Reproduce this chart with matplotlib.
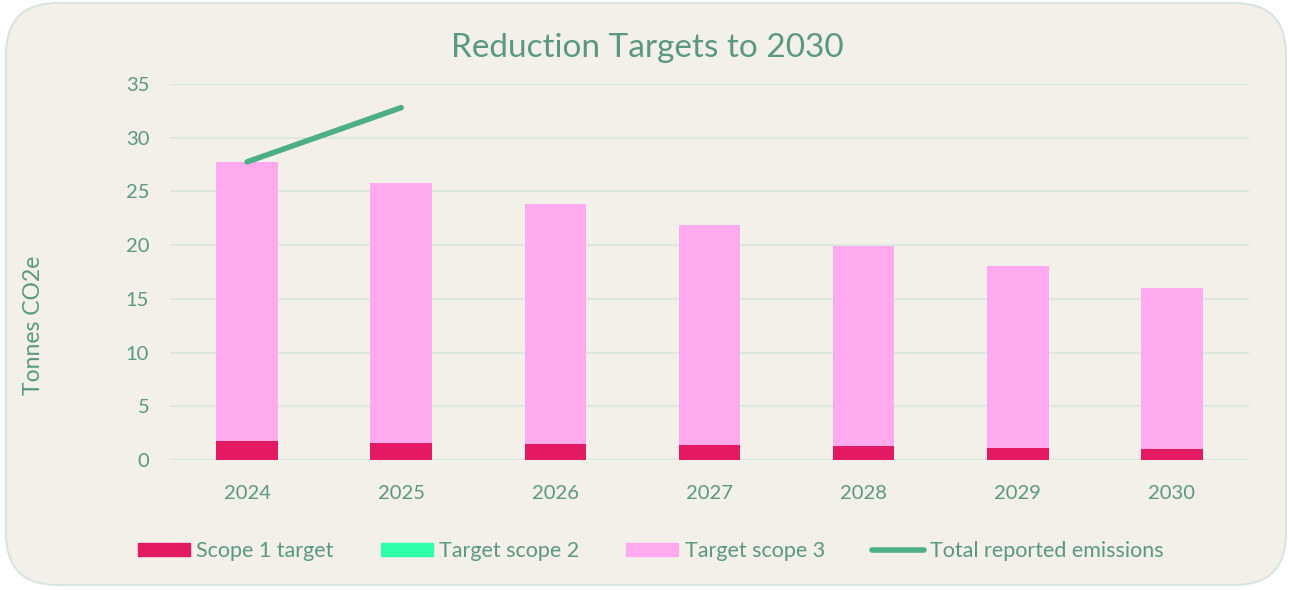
import matplotlib
matplotlib.use("Agg")
import matplotlib.pyplot as plt
from matplotlib.patches import FancyBboxPatch, Patch
from matplotlib.lines import Line2D
import numpy as np

plt.rcParams['font.family'] = ['Lato', 'DejaVu Sans']

years = ["2024", "2025", "2026", "2027", "2028", "2029", "2030"]
scope1 = [1.75, 1.62, 1.5, 1.38, 1.26, 1.14, 1.02]
scope2 = [0, 0, 0, 0, 0, 0, 0]
scope3 = [25.95, 24.18, 22.35, 20.52, 18.64, 16.92, 14.98]
total_reported = [27.75, 32.8]
yticks = [0, 5, 10, 15, 20, 25, 30, 35]

TXT = "#5a9883"
C1 = "#e31a63"
C2 = "#2effa8"
C3 = "#ffaaee"
CL = "#4caf85"
GRID = "#dde7e1"
BG = "#f3f0e9"

fig = plt.figure(figsize=(12.9, 5.9), dpi=100)
fig.patch.set_facecolor("white")
box = FancyBboxPatch((6/1290, 5/590), 1280/1290, 582/590,
                     boxstyle="round,pad=0,rounding_size=0.04",
                     transform=fig.transFigure, facecolor=BG,
                     edgecolor="#d8e5df", linewidth=1.5, mutation_aspect=1290/590,
                     zorder=-10)
fig.patches.append(box)

ax = fig.add_axes([170/1290, 1-460/590, 1079/1290, 376/590])
ax.set_facecolor("none")
ax.set_zorder(1)
x = np.arange(len(years))
w = 0.4
s1 = np.array(scope1); s2 = np.array(scope2); s3 = np.array(scope3)
ax.bar(x, s1, w, color=C1, zorder=3)
ax.bar(x, s2, w, bottom=s1, color=C2, zorder=3)
ax.bar(x, s3, w, bottom=s1 + s2, color=C3, zorder=3)
ax.plot(x[:len(total_reported)], total_reported, color=CL, linewidth=4,
        solid_capstyle="round", zorder=4)

ax.set_xlim(-0.5, len(years) - 0.5)
ax.set_ylim(0, 35)
ax.set_yticks(yticks)
ax.set_xticks(x)
ax.set_xticklabels(years)
ax.yaxis.grid(True, color=GRID, linewidth=1.5, zorder=0)
ax.axhline(0, color=GRID, linewidth=2.2, zorder=2)
for s in ax.spines.values():
    s.set_visible(False)
ax.tick_params(axis="both", length=0, colors=TXT, labelsize=14.5)
ax.tick_params(axis="y", pad=15)
ax.tick_params(axis="x", pad=18)

fig.text(647/1290, 1-48/590, "Reduction Targets to 2030", ha="center", va="center",
         fontsize=24, color=TXT)
fig.text(33/1290, 1-325/590, "Tonnes CO2e", ha="center", va="center",
         rotation=90, fontsize=16.5, color=TXT)

handles = [Patch(color=C1), Patch(color=C2), Patch(color=C3),
           Line2D([0], [0], color=CL, linewidth=4, solid_capstyle="round")]
labels = ["Scope 1 target", "Target scope 2", "Target scope 3", "Total reported emissions"]
fig.legend(handles, labels, loc="center", bbox_to_anchor=(651/1290, 1-551/590),
           ncol=4, frameon=False, fontsize=15.5, labelcolor=TXT,
           handlelength=2.4, handleheight=0.6, handletextpad=0.3, columnspacing=2.2)

fig.savefig("out.png", dpi=100, facecolor=fig.get_facecolor())
